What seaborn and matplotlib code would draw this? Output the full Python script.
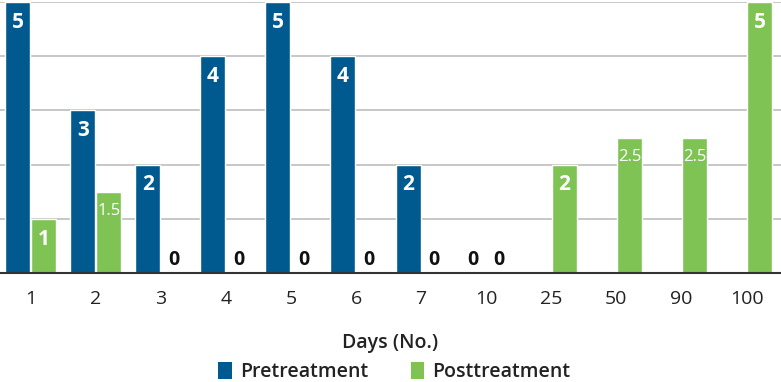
import numpy as np
import pandas as pd
import matplotlib
matplotlib.use("Agg")
import matplotlib.pyplot as plt
import seaborn as sns
from matplotlib.patches import Patch

days = ["1", "2", "3", "4", "5", "6", "7", "10", "25", "50", "90", "100"]
pretreatment = [5, 3, 2, 4, 5, 4, 2, 0, np.nan, np.nan, np.nan, np.nan]
posttreatment = [1, 1.5, 0, 0, 0, 0, 0, 0, 2, 2.5, 2.5, 5]
series = ["Pretreatment", "Posttreatment"]
colors = ["#005a8f", "#80c355"]

df = pd.DataFrame({
    "Days": days * 2,
    "Value": pretreatment + posttreatment,
    "Group": [series[0]] * len(days) + [series[1]] * len(days),
})

sns.set_theme(style="white")
FONT = ["Open Sans", "DejaVu Sans"]
plt.rcParams["font.family"] = FONT

fig = plt.figure(figsize=(7.81, 3.82), dpi=100)
ax = fig.add_axes([0.0, 0.285, 1.0, 0.71])

sns.barplot(data=df, x="Days", y="Value", hue="Group", order=days,
            hue_order=series, palette=colors, width=0.8, gap=0.04,
            saturation=1, ax=ax, legend=False, errorbar=None)

ax.set_ylim(0, 5)
ax.set_xlim(-0.47, 11.53)
ax.set_yticks([0, 1, 2, 3, 4, 5])
ax.set_yticklabels([])
ax.tick_params(axis="y", length=0)
ax.grid(axis="y", color="#bdbdbd", linewidth=1.2)
ax.set_axisbelow(True)
for s in ["left", "right", "top"]:
    ax.spines[s].set_visible(False)
ax.spines["bottom"].set_color("#333333")
ax.spines["bottom"].set_linewidth(1.5)
ax.tick_params(axis="x", length=0, pad=12, labelsize=14, labelcolor="#222222")
ax.set_xlabel("Days (No.)", fontsize=14, color="#222222", labelpad=18,
              fontweight="semibold")
ax.set_ylabel("")

for cont, vals in zip(ax.containers, [pretreatment, posttreatment]):
    for bar, v in zip(cont.patches, vals):
        if v is None or (isinstance(v, float) and np.isnan(v)):
            continue
        cx = bar.get_x() + bar.get_width() / 2
        if v == 0:
            ax.annotate("0", (cx, 0), xytext=(0, 2), textcoords="offset points",
                        ha="center", va="bottom", fontsize=14, fontweight="bold",
                        color="#111111")
        else:
            txt = f"{v:g}"
            small = "." in txt
            ax.annotate(txt, (cx, v), xytext=(0, -8 if small else -7),
                        textcoords="offset points", ha="center", va="top",
                        fontsize=12 if small else 15,
                        fontweight="normal" if small else "bold",
                        color="white")

handles = [Patch(facecolor=c, edgecolor="none") for c in colors]
fig.legend(handles, series, loc="center", bbox_to_anchor=(0.505, 0.027),
           ncol=2, frameon=False, handlelength=0.7,
           handleheight=1.0, handletextpad=0.4, columnspacing=2.2,
           labelcolor="#222222", prop={"weight": "semibold", "size": 14})

fig.savefig("out.png", dpi=100)
